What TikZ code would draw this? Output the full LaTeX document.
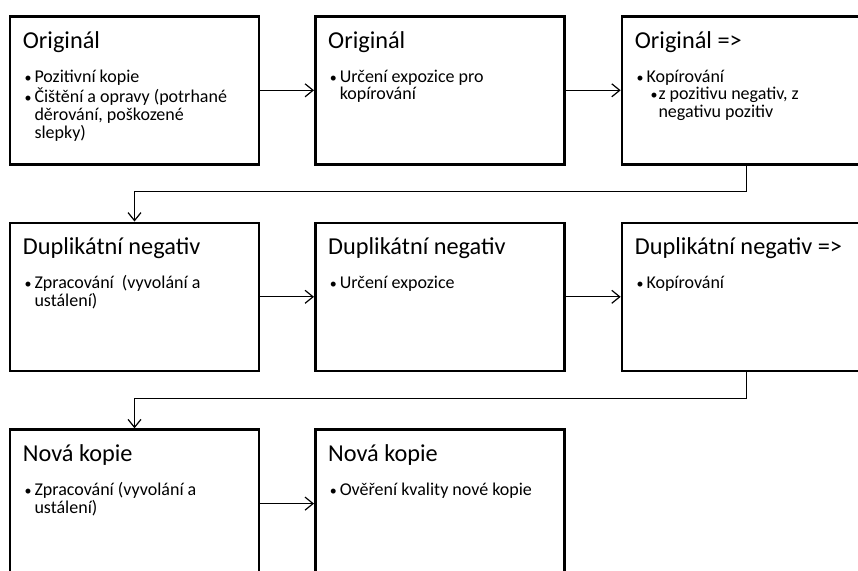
\documentclass[tikz,border=0pt]{standalone}
\usepackage{fontspec}
\setmainfont{Carlito}
\usetikzlibrary{arrows.meta}

% bullet cell used in the step descriptions
\newcommand{\bdot}{\makebox[10pt][l]{\fontsize{14}{14}\selectfont •}}
\newcommand{\subdot}{\hspace*{4pt}\makebox[8pt][l]{\fontsize{14}{14}\selectfont •}}
\newcommand{\subcont}{\hspace*{12pt}}

\tikzset{
  stagebox/.style={draw=black, line width=2.6pt, fill=white, rectangle,
    minimum width=249pt, minimum height=148pt, inner sep=0pt, anchor=north west},
  stagetitle/.style={anchor=base west, inner sep=0pt,
    font=\fontsize{24.3}{28}\selectfont},
  stagebody/.style={anchor=base west, inner sep=0pt,
    font=\fontsize{18}{17.7}\selectfont},
  flow/.style={draw=black, line width=1.2pt,
    -{Straight Barb[length=8pt,width=13pt,line width=1.2pt]}}
}

\newcommand{\stage}[4]{%
  \node[stagebox] (#1) at (#2) {};
  \node[stagetitle] (#1t) at ([xshift=14pt,yshift=-33pt]#1.north west) {#3};
  \node[stagebody] (#1b) at ([xshift=15.6pt,yshift=-67pt]#1.north west)
    {\begin{tabular}[t]{@{}l@{}l@{}}#4\end{tabular}};
}

\begin{document}
\begin{tikzpicture}[x=1pt,y=-1pt]
  \useasboundingbox (0,0) rectangle (858,570);

  % first row
  \stage{o1}{8.7,15}{Originál}{%
    \bdot & Pozitivní kopie\\[0.6pt]
    \bdot & Čištění a opravy (potrhané\\
          & děrování, poškozené\\
          & slepky)}
  \stage{o2}{314,15}{Originál}{%
    \bdot & Určení expozice pro\\
          & kopírování}
  \stage{o3}{620.7,15}{Originál =>}{%
    \bdot & Kopírování\\
          & \subdot z pozitivu negativ, z\\
          & \subcont negativu pozitiv}

  % second row
  \stage{d1}{8.7,221.5}{Duplikátní negativ}{%
    \bdot & Zpracování \ (vyvolání a\\
          & ustálení)}
  \stage{d2}{314,221.5}{Duplikátní negativ}{%
    \bdot & Určení expozice}
  \stage{d3}{620.7,221.5}{Duplikátní negativ =>}{%
    \bdot & Kopírování}

  % third row
  \stage{n1}{8.7,428.3}{Nová kopie}{%
    \bdot & Zpracování (vyvolání a\\
          & ustálení)}
  \stage{n2}{314,428.3}{Nová kopie}{%
    \bdot & Ověření kvality nové kopie}

  % connectors within rows
  \draw[flow] (o1.east) -- (o2.west);
  \draw[flow] (o2.east) -- (o3.west);
  \draw[flow] (d1.east) -- (d2.west);
  \draw[flow] (d2.east) -- (d3.west);
  \draw[flow] (n1.east) -- (n2.west);

  % connectors wrapping to the next row
  \coordinate (k1) at (0,191.3);
  \coordinate (k2) at (0,398.5);
  \draw[flow] (o3.south) -- (o3.south |- k1) -- (d1.north |- k1) -- (d1.north);
  \draw[flow] (d3.south) -- (d3.south |- k2) -- (n1.north |- k2) -- (n1.north);
\end{tikzpicture}
\end{document}
